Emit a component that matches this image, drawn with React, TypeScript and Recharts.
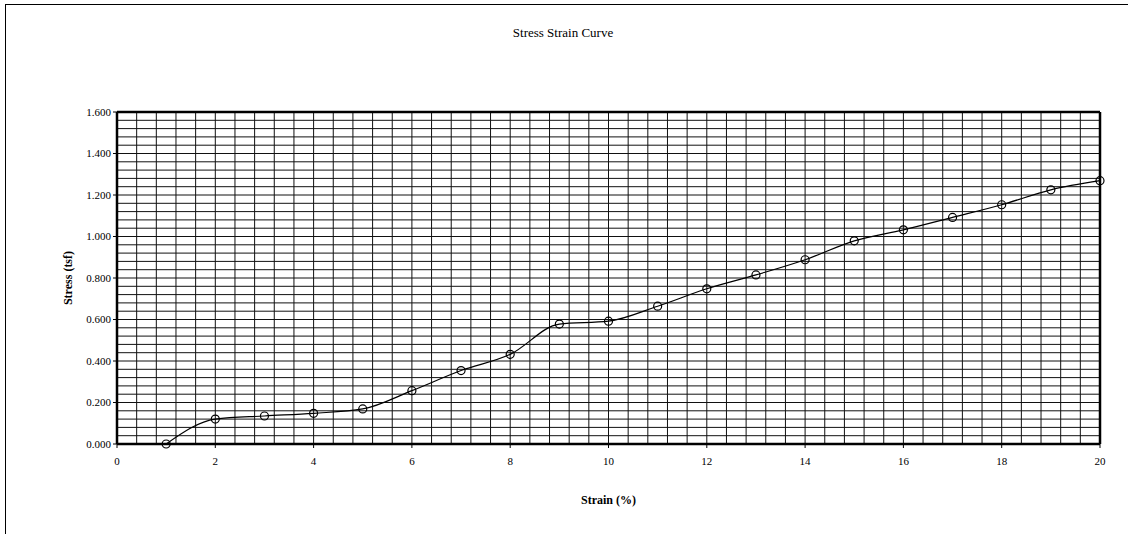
import React from "react";
import {
  LineChart,
  Line,
  XAxis,
  YAxis,
  CartesianGrid,
  ReferenceLine,
} from "recharts";

const strain = [1, 2, 3, 4, 5, 6, 7, 8, 9, 10, 11, 12, 13, 14, 15, 16, 17, 18, 19, 20];
const stress = [
  0.0, 0.12, 0.135, 0.148, 0.169, 0.257, 0.354, 0.432, 0.578, 0.592, 0.664,
  0.748, 0.815, 0.888, 0.979, 1.032, 1.092, 1.153, 1.225, 1.269,
];
const xTicks = [0, 2, 4, 6, 8, 10, 12, 14, 16, 18, 20];
const yTicks = [0, 0.2, 0.4, 0.6, 0.8, 1.0, 1.2, 1.4, 1.6];
// minor grid every 0.4 strain and 0.04 stress
const xGrid = Array.from({ length: 51 }, (_, i) => +(i * 0.4).toFixed(2));
const yGrid = Array.from({ length: 41 }, (_, i) => +(i * 0.04).toFixed(2));
const xMax = 20;
const yMax = 1.6;

const data = strain.map((s, i) => ({ strain: s, stress: stress[i] }));

const font = "'Liberation Serif', 'Times New Roman', serif";

const vGen = ({ xAxis, offset }: any) => {
  const s = xAxis && xAxis.scale;
  if (typeof s === "function") return xGrid.map((v) => s(v));
  return xGrid.map((v) => offset.left + (v / xMax) * offset.width);
};
const hGen = ({ yAxis, offset }: any) => {
  const s = yAxis && yAxis.scale;
  if (typeof s === "function") return yGrid.map((v) => s(v));
  return yGrid.map((v) => offset.top + (1 - v / yMax) * offset.height);
};

const App = () => {
  return (
    <div style={{ position: "absolute", left: 0, top: 0, width: 1128, height: 534, overflow: "hidden", background: "#fff" }}>
      <div
        style={{
          position: "absolute",
          left: 5,
          top: 4,
          width: 1200,
          height: 600,
          borderLeft: "1px solid #000",
          borderTop: "1px solid #000",
        }}
      />
      <div
        style={{
          position: "absolute",
          left: 563,
          top: 25,
          transform: "translateX(-50%)",
          whiteSpace: "nowrap",
          fontFamily: font,
          fontSize: 13,
          color: "#000",
        }}
      >
        Stress Strain Curve
      </div>
      <div style={{ position: "absolute", left: 0, top: 0 }}>
        <LineChart
          width={1128}
          height={534}
          data={data}
          margin={{ top: 112, right: 28, left: 60, bottom: 60 }}
          style={{ fontFamily: font }}
        >
          <CartesianGrid
            stroke="#111"
            strokeWidth={1}
            verticalCoordinatesGenerator={vGen}
            horizontalCoordinatesGenerator={hGen}
          />
          <XAxis
            type="number"
            dataKey="strain"
            domain={[0, xMax]}
            ticks={xTicks}
            interval={0}
            height={30}
            tick={{ fill: "#000", fontSize: 11, fontFamily: font }}
            tickSize={4}
            tickMargin={9}
            tickLine={{ stroke: "#000" }}
            axisLine={{ stroke: "#000", strokeWidth: 2.5 }}
            label={{
              value: "Strain (%)",
              position: "insideBottom",
              offset: -30,
              fill: "#000",
              fontSize: 12,
              fontWeight: "bold",
              fontFamily: font,
            }}
          />
          <YAxis
            type="number"
            domain={[0, yMax]}
            ticks={yTicks}
            interval={0}
            width={57}
            tickFormatter={(v: number) => v.toFixed(3)}
            tick={{ fill: "#000", fontSize: 11, fontFamily: font }}
            tickSize={4}
            tickLine={{ stroke: "#000" }}
            axisLine={{ stroke: "#000", strokeWidth: 2.5 }}
            label={{
              value: "Stress (tsf)",
              angle: -90,
              position: "insideLeft",
              offset: 8,
              fill: "#000",
              fontSize: 12,
              fontWeight: "bold",
              fontFamily: font,
              style: { textAnchor: "middle" },
            }}
          />
          <ReferenceLine y={yMax} stroke="#000" strokeWidth={2.5} />
          <ReferenceLine x={xMax} stroke="#000" strokeWidth={2.5} />
          <Line
            type="monotone"
            dataKey="stress"
            stroke="#000"
            strokeWidth={1.2}
            dot={{ r: 4, stroke: "#000", strokeWidth: 1.2, fill: "none" }}
            activeDot={false}
            isAnimationActive={false}
          />
        </LineChart>
      </div>
    </div>
  );
};

export default App;
